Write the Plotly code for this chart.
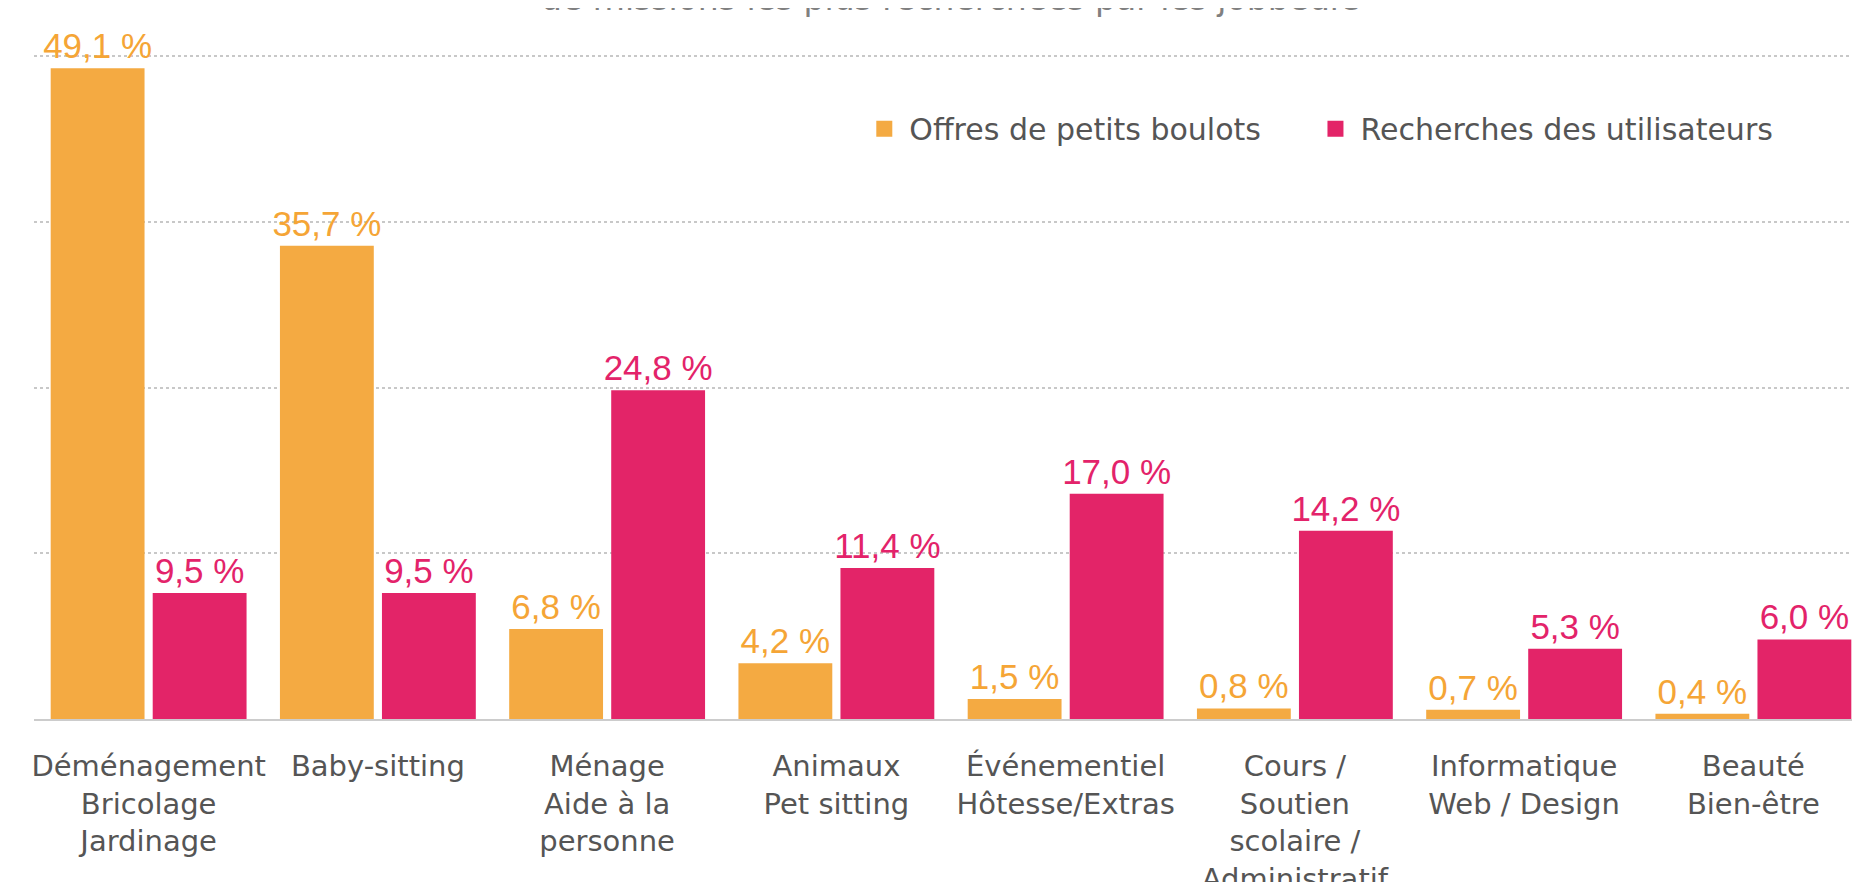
import plotly.graph_objects as go

categories = [
    "Déménagement<br>Bricolage<br>Jardinage",
    "Baby-sitting",
    "Ménage<br>Aide à la<br>personne",
    "Animaux<br>Pet sitting",
    "Événementiel<br>Hôtesse/Extras",
    "Cours /<br>Soutien<br>scolaire /<br>Administratif",
    "Informatique<br>Web / Design",
    "Beauté<br>Bien-être",
]
offres = [49.1, 35.7, 6.8, 4.2, 1.5, 0.8, 0.7, 0.4]
recherches = [9.5, 9.5, 24.8, 11.4, 17.0, 14.2, 5.3, 6.0]
series_names = ["Offres de petits boulots", "Recherches des utilisateurs"]
title_text = "de missions les plus recherchées par les jobbeurs"

ORANGE = "#F4AA42"
PINK = "#E32468"
colors = [ORANGE, PINK]
label_colors = ["#F5A536", "#E3236A"]
legend_ids = ["legend", "legend2"]

fig = go.Figure()
for name, vals, col, lcol in zip(series_names, [offres, recherches], colors, label_colors):
    fig.add_trace(go.Bar(
        x=categories, y=vals, name=name, legendgroup=name, showlegend=False,
        marker=dict(color=col, line=dict(width=0)),
        texttemplate="%{y:.1f} %", textposition="outside", textangle=0,
        constraintext="none",
        textfont=dict(family="Liberation Sans, Arial", size=35, color=lcol),
        cliponaxis=False,
    ))
for name, col, lid in zip(series_names, colors, legend_ids):
    fig.add_trace(go.Scatter(
        x=[None], y=[None], name=name, legendgroup=name, mode="markers",
        marker=dict(symbol="square", size=20, color=col), legend=lid,
    ))

legend_style = dict(
    orientation="h", y=0.889, xanchor="left", yanchor="middle",
    font=dict(family="DejaVu Sans", size=30, color="#555555"),
    bgcolor="rgba(0,0,0,0)", itemwidth=40,
)

fig.update_layout(
    width=1860, height=882,
    paper_bgcolor="white", plot_bgcolor="white",
    margin=dict(l=26, r=0, t=47, b=171),
    separators=", ",
    barmode="group", bargap=0.11, bargroupgap=0.08,
    font=dict(family="DejaVu Sans", color="#555555"),
    showlegend=True,
    legend=dict(x=0.450, **legend_style),
    legend2=dict(x=0.696, **legend_style),
    annotations=[dict(
        text=title_text, xref="paper", yref="paper", x=0.5, y=1, yshift=57,
        xanchor="center", yanchor="middle", showarrow=False,
        font=dict(family="DejaVu Sans", size=33, color="#808080"),
    )],
)
fig.update_xaxes(
    showline=True, linecolor="#cccccc", linewidth=2, automargin=False,
    showgrid=False, ticks="", ticklabelstandoff=20,
    tickfont=dict(family="DejaVu Sans", size=29, color="#555555"),
)
fig.update_yaxes(
    range=[0, 50.1], tick0=0, dtick=12.5, showticklabels=False,
    showgrid=True, gridcolor="#c8c8c8", gridwidth=2, griddash="dot",
    zeroline=False, automargin=False,
)

fig.write_html("out.html")
